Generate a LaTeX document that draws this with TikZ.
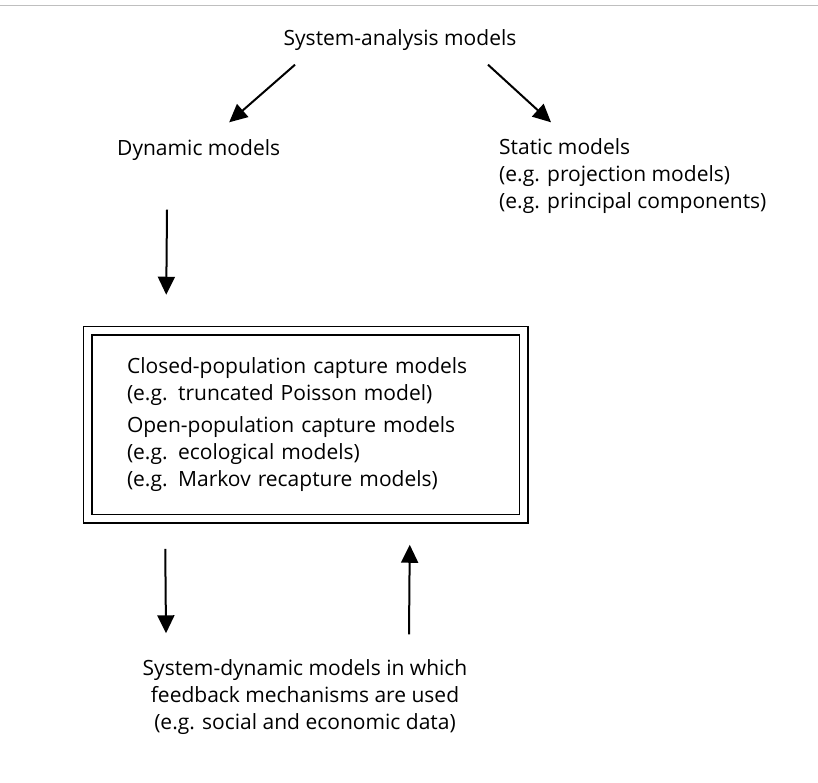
\documentclass[tikz,border=0pt]{standalone}
\usepackage{fontspec}
\setmainfont{Open Sans}
\usetikzlibrary{arrows.meta}

\begin{document}
\begin{tikzpicture}[x=1pt,y=-1pt]
 \tikzstyle{txt}=[inner sep=0pt,font=\fontsize{21}{27}\selectfont]
 \tikzstyle{estun}=[-{Triangle[length=18pt,width=17pt]},line width=2pt]
 \tikzstyle{dbox}=[draw,double,line width=1.5pt,double distance=7pt,minimum width=436pt,minimum height=188pt,text width=357pt,align=left,font=\fontsize{21}{27}\selectfont]
 %
 \useasboundingbox[fill=white] (0,0) rectangle (818,782);
 \draw[gray!50,line width=1pt] (0,5) -- (818,5);
 %
 \node[txt] (sys) at (400,40) {System-analysis models};
 \node[txt, anchor=west] (dyn) at (117,150) {Dynamic models};
 \node[txt, anchor=west, align=left] (stat) at (499,176) {Static models\\ (e.g. projection models)\\ (e.g. principal components)};
 \node[dbox] (caps) at (305.5,424.5) {Closed-population capture models\\ (e.g. truncated Poisson model)\\[5pt] Open-population capture models\\ (e.g. ecological models)\\ (e.g. Markov recapture models)};
 \node[txt, align=center] (feed) at (305,697) {System-dynamic models in which\\ feedback mechanisms are used\\ (e.g. social and economic data)};
 %
 \draw[estun] ([xshift=-105pt,yshift=-14pt]sys.south) -- ([xshift=30.5pt,yshift=17pt]dyn.north);
 \draw[estun] ([xshift=88pt,yshift=-14pt]sys.south) -- ([xshift=52pt,yshift=16pt]stat.north west);
 \draw[estun] ([xshift=50pt,yshift=-49pt]dyn.south west) -- ([xshift=79.5pt,yshift=35pt]caps.north west);
 \draw[estun] ([xshift=78.5pt,yshift=-29.5pt]caps.south west) -- ([xshift=-139pt,yshift=26pt]feed.north);
 \draw[estun] ([xshift=104pt,yshift=25pt]feed.north) -- ([xshift=-114.5pt,yshift=-25.5pt]caps.south east);
\end{tikzpicture}
\end{document}
